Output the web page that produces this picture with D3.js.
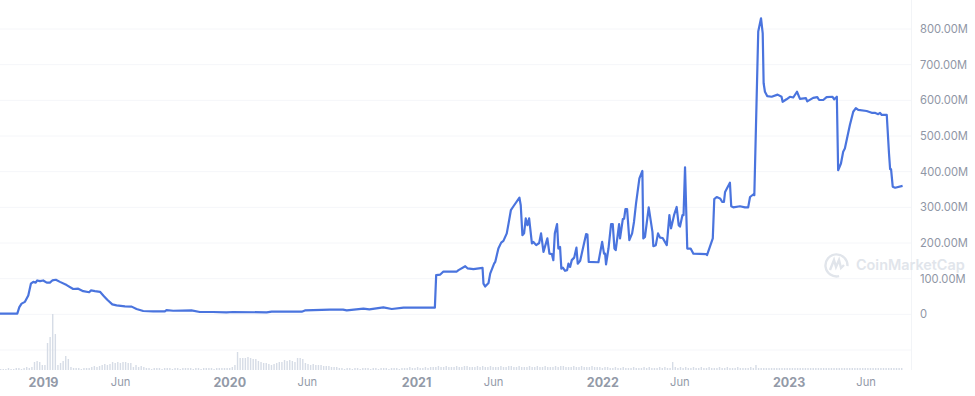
<!DOCTYPE html>
<html>
<head>
<meta charset="utf-8">
<title>CoinMarketCap chart</title>
<script src="https://d3js.org/d3.v7.min.js"></script>
<style>
  html, body { margin: 0; padding: 0; background: #fff; }
  svg { display: block; }
  text { font-family: Inter, "Noto Sans", sans-serif; }
</style>
</head>
<body>
<div id="chart"></div>
<script>
// market cap line, time as decimal year, value in millions
const lineYears = [
  2018.769,2018.862,2018.873,2018.885,2018.903,2018.921,2018.935,2018.948,2018.961,2018.969,2018.984,
  2019.001,2019.020,2019.037,2019.050,2019.069,2019.091,2019.127,2019.162,2019.189,2019.216,2019.248,2019.257,
  2019.279,2019.306,2019.327,2019.345,2019.372,2019.395,2019.440,2019.476,2019.502,2019.538,2019.591,2019.654,
  2019.663,2019.699,2019.797,2019.842,2019.912,2019.985,2020.021,2020.200,2020.227,2020.388,2020.405,2020.539,
  2020.609,2020.629,2020.718,2020.750,2020.825,2020.870,2020.933,2021.101,2021.108,2021.130,2021.147,2021.219,
  2021.228,2021.264,2021.276,2021.308,2021.357,2021.362,2021.371,2021.389,2021.398,2021.419,2021.425,2021.442,
  2021.457,2021.469,2021.487,2021.496,2021.509,2021.523,2021.555,2021.562,2021.571,2021.580,2021.589,2021.598,
  2021.607,2021.622,2021.630,2021.645,2021.661,2021.671,2021.684,2021.705,2021.716,2021.729,2021.737,2021.745,
  2021.757,2021.764,2021.773,2021.780,2021.788,2021.800,2021.811,2021.818,2021.827,2021.836,2021.849,2021.861,
  2021.868,2021.881,2021.913,2021.920,2021.927,2021.979,2021.999,2022.009,2022.015,2022.020,2022.033,2022.047,
  2022.056,2022.065,2022.072,2022.090,2022.095,2022.110,2022.117,2022.124,2022.133,2022.145,2022.160,2022.170,
  2022.181,2022.199,2022.215,2022.220,2022.229,2022.249,2022.269,2022.274,2022.287,2022.299,2022.310,2022.324,
  2022.346,2022.360,2022.369,2022.385,2022.399,2022.410,2022.417,2022.430,2022.436,2022.444,2022.456,2022.474,
  2022.489,2022.557,2022.562,2022.593,2022.601,2022.614,2022.632,2022.644,2022.653,2022.659,2022.685,2022.692,
  2022.703,2022.739,2022.766,2022.783,2022.793,2022.810,2022.816,2022.837,2022.852,2022.861,2022.866,2022.873,
  2022.885,2022.909,2022.941,2022.962,2022.968,2022.989,2023.007,2023.025,2023.045,2023.061,2023.093,2023.100,
  2023.132,2023.154,2023.164,2023.186,2023.204,2023.236,2023.245,2023.259,2023.266,2023.281,2023.293,2023.302,
  2023.329,2023.347,2023.361,2023.374,2023.419,2023.446,2023.463,2023.481,2023.491,2023.500,2023.527,2023.539,
  2023.545,2023.550,2023.559,2023.572,2023.612
];
const lineValues = [
  2,2,20,30,35,53,86,91,89,95,93,
  95,89,89,95,97,91,82,71,72,65,62,67,
  65,63,51,41,28,25,22.5,21.6,15,9.3,8.4,8.4,
  12,10,11,6.5,6.5,5.6,6.5,5.6,7.5,7.5,11,13,
  13,11,16,14,19.7,15,18.8,18.8,110,111.5,120,120,
  124,135,129,127,130,86,78,88,114,142,147,184.5,
  201,206,227,253,292,303,327,306,222,227,269,250,
  269,199,203,194,200,227,175,213,170,169,152,227,
  253,184.5,189,128,131,122,124,142,133,152,159,187,
  142,150,225,224,147,146,203,170,170,140,184.5,253,
  253,184.5,180,253,213,267,268,295,295,208,227,259,
  311,381,402,213,217,300,231,191,194,227,215,214,
  194,278,241,278,301,250,246,278,278,412,184.5,184.5,
  170,169,166,213,323,329,325,315,315,343,369,303,
  300,303,300,300,329,336,334,793,830,788,648,624,
  612,610,616,610,596,603,610,608,624,604,606,597,
  607,609,601,601,609,610,603,610,404,423,456,465,
  531,568,578,573,570,565,565,561,565,559,559,451,
  407,407,358,355,360
];

// volume bars, one every 5.1 days from the left edge, relative height
const volumeStart = 2018.769;
const volumeStep = 5.1 / 365;
const volumeValues = [
  1,1,1,2,1,1,2,2,1,2,3,2,3,8,9,8,5,5,27,33,56,36,5,7,9,14,11,3,2,
  2,2,1,2,2,2,3,4,3,4,5,6,5,6,8,7,8,7,8,8,7,7,3,5,3,4,3,
  2,2,1,2,2,2,1,2,2,2,1,2,2,1,2,2,2,2,1,2,2,1,2,2,2,2,1,2,2,2,2,2,2,
  3,5,18,12,12,12,13,12,11,11,9,8,7,7,6,5,6,7,8,8,10,9,10,9,8,12,12,11,7,6,5,6,5,5,5,4,4,4,3,3,3,
  2,2,1,2,2,1,2,2,1,2,2,2,1,2,2,1,2,2,2,1,2,2,2,1,2,2,2,3,2,2,3,2,2,3,2,
  3,3,3,4,3,3,4,3,3,3,4,3,3,4,4,3,3,3,4,3,4,3,3,4,3,3,3,4,3,3,4,4,3,3,4,3,3,3,4,3,3,4,3,3,4,3,3,3,4,3,4,4,3,3,3,4,3,3,4,3,3,3,4,3,3,3,2,3,3,2,
  2,3,2,2,3,2,2,2,3,2,2,2,3,2,3,2,2,2,3,2,3,2,2,8,3,2,3,2,3,2,2,3,2,2,3,2,2,3,2,2,2,3,2,2,3,2,2,2,
  3,2,2,2,2,3,2,5,2,2,2,2,2,2,2,2,2,2,2,2,2,2,2,2,2,2,2,2,2,2,2,2,2,2,2,2,2,2,2,2,2,2,2,2,2,2,2,2,2,2,2,2,2,2,2,2,2,2,2,2,2,2,2,2
];

const xTickDates = ["2019-01-01","2019-06-01","2020-01-01","2020-06-01","2021-01-01","2021-06-01","2022-01-01","2022-06-01","2023-01-01","2023-06-01"];
const xTickLabels = ["2019","Jun","2020","Jun","2021","Jun","2022","Jun","2023","Jun"];
const yTickValues = [-100,0,100,200,300,400,500,600,700,800];
const yTickLabels = ["","0","100.00M","200.00M","300.00M","400.00M","500.00M","600.00M","700.00M","800.00M"];

const width = 975, height = 396;
const plotRight = 911, plotBottom = 370;

function yearToDate(y) {
  const whole = Math.floor(y);
  const start = Date.UTC(whole, 0, 1), end = Date.UTC(whole + 1, 0, 1);
  return new Date(start + (y - whole) * (end - start));
}

const svg = d3.select("#chart").append("svg")
  .attr("width", width)
  .attr("height", height);

const x = d3.scaleUtc()
  .domain([new Date(Date.UTC(2019, 0, 1)), new Date(Date.UTC(2023, 0, 1))])
  .range([43, 788.6]);

const y = d3.scaleLinear().domain([-100, 800]).range([350, 29]);

const yVol = d3.scaleLinear().domain([0, 56]).range([plotBottom, 314]);

// grid + right axis
const yAxis = d3.axisRight(y)
  .tickValues(yTickValues)
  .tickSize(0)
  .tickPadding(9)
  .tickFormat((d, i) => yTickLabels[i]);

const yG = svg.append("g")
  .attr("transform", `translate(${plotRight},0)`)
  .call(yAxis);
yG.select(".domain").remove();
yG.selectAll("text")
  .attr("fill", "#8f96a5")
  .style("font-size", "11.2px");

svg.append("g").selectAll("line")
  .data(yTickValues)
  .enter().append("line")
  .attr("x1", 0)
  .attr("x2", plotRight)
  .attr("y1", d => y(d))
  .attr("y2", d => y(d))
  .attr("stroke", "#f5f6f9");

svg.append("line")
  .attr("x1", plotRight + 0.5)
  .attr("x2", plotRight + 0.5)
  .attr("y1", 0)
  .attr("y2", plotBottom)
  .attr("stroke", "#f2f4f7");

// watermark
const mark = svg.append("g").attr("transform", "translate(836,265)");
mark.append("path")
  .attr("d", "M9.5 -6.5 A11 11 0 1 0 9.5 6.5")
  .attr("fill", "none")
  .attr("stroke", "#e1e5eb")
  .attr("stroke-width", 2.4)
  .attr("transform", "rotate(40)");
mark.append("path")
  .attr("d", "M-6 5 L-2 -5 L0 2 L3 -5 L5 3 L8 0")
  .attr("fill", "none")
  .attr("stroke", "#e1e5eb")
  .attr("stroke-width", 2.4);
svg.append("text")
  .attr("x", 856)
  .attr("y", 270)
  .attr("fill", "#e1e5eb")
  .style("font-size", "14.4px")
  .style("font-weight", 600)
  .text("CoinMarketCap");

// volume
svg.append("g").selectAll("rect")
  .data(volumeValues)
  .enter().append("rect")
  .attr("x", (d, i) => x(yearToDate(volumeStart + i * volumeStep)))
  .attr("y", d => yVol(d))
  .attr("width", 1.4)
  .attr("height", d => plotBottom - yVol(d))
  .attr("fill", "#d6dce6");

// market cap line
const line = d3.line()
  .x((d, i) => x(yearToDate(lineYears[i])))
  .y(d => y(d));

svg.append("path")
  .datum(lineValues)
  .attr("fill", "none")
  .attr("stroke", "#4a74de")
  .attr("stroke-width", 2.2)
  .attr("stroke-linejoin", "round")
  .attr("d", line);

// time axis
const xAxis = d3.axisBottom(x)
  .tickValues(xTickDates.map(d => new Date(d + "T00:00:00Z")))
  .tickSize(0)
  .tickPadding(8)
  .tickFormat((d, i) => xTickLabels[i]);

const xG = svg.append("g")
  .attr("transform", `translate(0,${plotBottom})`)
  .call(xAxis);
xG.select(".domain").remove();
xG.selectAll("text")
  .attr("fill", "#939aa8")
  .style("font-weight", (d, i) => i % 2 === 0 ? 700 : 400)
  .style("font-size", (d, i) => i % 2 === 0 ? "12.5px" : "11.2px");
</script>
</body>
</html>
